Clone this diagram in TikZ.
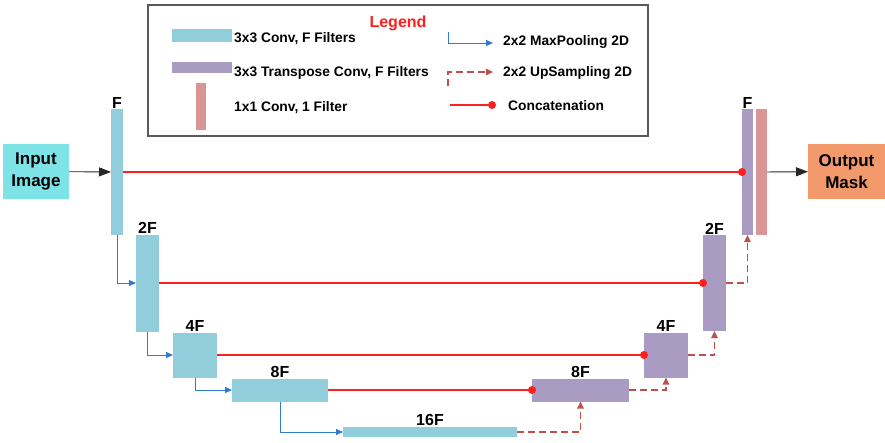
\documentclass[tikz,border=0pt]{standalone}
\usepackage{fontspec}
\setmainfont{Liberation Sans}
\usetikzlibrary{arrows.meta}
\definecolor{convc}{HTML}{92CDDC}
\definecolor{tconvc}{HTML}{A99BC1}
\definecolor{onec}{HTML}{D99694}
\definecolor{inpc}{HTML}{7DE3E6}
\definecolor{outc}{HTML}{F39A6C}
\definecolor{catc}{HTML}{FF1F1F}
\definecolor{poolc}{HTML}{2E7BCF}
\definecolor{upc}{HTML}{C0504D}
\begin{document}
\begin{tikzpicture}[x=1pt,y=-1pt,
	every node/.style={font=\bfseries},
	blk/.style={inner sep=0,outer sep=0,draw=none},
	conv/.style={blk,fill=convc},
	tconv/.style={blk,fill=tconvc},
	onebyone/.style={blk,fill=onec},
	lbl/.style={label={[inner sep=0.8pt,font=\fontsize{16}{18}\selectfont\bfseries]above:#1}},
	iobox/.style={blk,align=center,font=\fontsize{17}{22}\selectfont\bfseries,minimum width=#1,minimum height=55},
	lgtext/.style={anchor=base west,inner sep=0,font=\fontsize{13.8}{16}\selectfont\bfseries},
	pool/.style={color=poolc,line width=0.9pt,-{Triangle[length=7pt,width=6pt]}},
	upsamp/.style={color=upc,line width=1.2pt,dash pattern=on 7pt off 4pt,-{Triangle[length=7pt,width=6.5pt]}},
	concat/.style={color=catc,line width=1.5pt},
	catdot/.style={fill=catc},
	flow/.style={color=black!85,line width=0.9pt,-{Triangle[length=12pt,width=9pt]}}]
	\useasboundingbox (0,0) rectangle (885,442);
	% Chu thich
	\node[draw=black!65,line width=1.1pt,minimum width=500,minimum height=131,inner sep=0] (legendbox) at (398,70.5) {};
	\node[anchor=base,inner sep=0,text=catc,font=\fontsize{16}{18}\selectfont\bfseries] (legendtitle) at (398,27) {Legend};
	\node[conv,minimum width=60,minimum height=13] (lgconv) at (202,35.5) {};
	\node[tconv,minimum width=60,minimum height=11] (lgtconv) at (202,67.5) {};
	\node[onebyone,minimum width=10,minimum height=47] (lgone) at (201,106.5) {};
	\node[lgtext] (lgconvtxt) at (234,42) {3x3 Conv, F Filters};
	\node[lgtext] (lgtconvtxt) at (234,76) {3x3 Transpose Conv, F Filters};
	\node[lgtext] (lgonetxt) at (234,111) {1x1 Conv, 1 Filter};
	\node[lgtext] (lgpooltxt) at (503,45) {2x2 MaxPooling 2D};
	\node[lgtext] (lguptxt) at (503,76) {2x2 UpSampling 2D};
	\node[lgtext] (lgcattxt) at (508,110) {Concatenation};
	\coordinate (lgpoolA) at (448,32);
	\coordinate (lgpoolB) at (493,43);
	\coordinate (lgupA) at (448,86);
	\coordinate (lgupB) at (493,72);
	\coordinate (lgcatA) at (450,105);
	\coordinate (lgcatB) at (492,105);
	\draw[pool] (lgpoolA) |- (lgpoolB);
	\draw[upsamp] (lgupA) |- (lgupB);
	\draw[concat] (lgcatA) -- (lgcatB);
	\fill[catdot] (lgcatB) circle (4);
	% Nhanh ma hoa
	\node[iobox=66,fill=inpc] (inp) at (36,171.5) {Input\\Image};
	\node[conv,lbl=F,minimum width=12,minimum height=126] (e1) at (117,172) {};
	\node[conv,lbl=2F,minimum width=23,minimum height=97] (e2) at (147.5,283) {};
	\node[conv,lbl=4F,minimum width=44,minimum height=45] (e3) at (195,355) {};
	\node[conv,lbl=8F,minimum width=96,minimum height=23] (e4) at (280,390) {};
	\node[conv,lbl=16F,minimum width=174,minimum height=10] (e5) at (430,432) {};
	% Nhanh giai ma
	\node[tconv,lbl=8F,minimum width=97,minimum height=23] (d4) at (580.5,390) {};
	\node[tconv,lbl=4F,minimum width=44,minimum height=45] (d3) at (666,355) {};
	\node[tconv,lbl=2F,minimum width=23,minimum height=96] (d2) at (714.5,283) {};
	\node[tconv,lbl=F,minimum width=11,minimum height=126] (d1) at (747.5,172) {};
	\node[onebyone,minimum width=11,minimum height=126] (last) at (761.5,172) {};
	\node[iobox=77,fill=outc] (outp) at (846.5,171.5) {Output\\Mask};
	% Noi tat
	\draw[concat] (e1.east) -- (d1.west);
	\draw[concat] (e2.east) -- (d2.west);
	\draw[concat] (e3.east) -- (d3.west);
	\draw[concat] (e4.east) -- (d4.west);
	\foreach \n in {d1,d2,d3,d4}
	\fill[catdot] (\n.west) circle (4);
	% Cac mui ten
	\draw[flow] (inp) -- (e1);
	\draw[flow] (last) -- (outp);
	\foreach \a/\b in {e1/e2,e2/e3,e3/e4,e4/e5}
	\draw[pool] (\a.south) |- (\b.west);
	\foreach \a/\b in {e5/d4,d4/d3,d3/d2,d2/d1}
	\draw[upsamp] (\a.east) -| (\b.south);
\end{tikzpicture}
\end{document}
